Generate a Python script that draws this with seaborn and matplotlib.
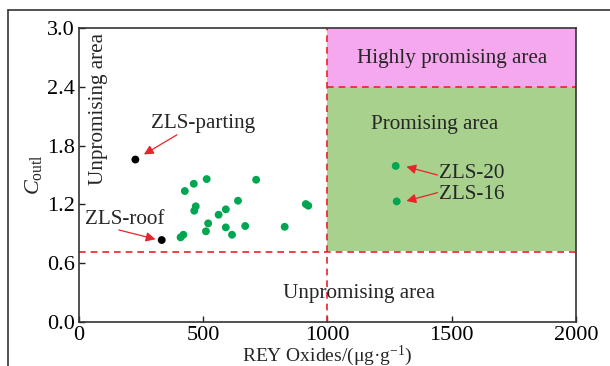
import matplotlib
matplotlib.use("Agg")
import matplotlib.pyplot as plt
import matplotlib.patches as mpatches
from matplotlib.lines import Line2D
import seaborn as sns
import pandas as pd

# REY oxide content (ug/g) and outlook coefficient for each sample
green_x = [426, 462, 514, 713, 470, 464, 640, 591, 562, 520, 511, 591, 616,
           669, 828, 913, 923, 409, 420, 1275, 1279]
green_y = [1.337, 1.411, 1.459, 1.452, 1.181, 1.136, 1.238, 1.150, 1.095,
           1.007, 0.926, 0.966, 0.891, 0.980, 0.972, 1.204, 1.187, 0.864,
           0.891, 1.593, 1.231]
black_x = [227, 333]
black_y = [1.658, 0.837]

# classification thresholds
rey_cut = 1000
c_low = 0.72
c_high = 2.4

sns.set_style("ticks")
plt.rcParams["font.family"] = ["Liberation Serif", "DejaVu Serif"]
plt.rcParams["mathtext.fontset"] = "custom"
plt.rcParams["mathtext.rm"] = "Liberation Serif"
plt.rcParams["mathtext.it"] = "Liberation Serif:italic"

df = pd.DataFrame({
    "x": green_x + black_x,
    "y": green_y + black_y,
    "kind": ["coal"] * len(green_x) + ["rock"] * len(black_x),
})

fig = plt.figure(figsize=(6.1, 3.66), dpi=100)
ax = fig.add_axes([0.1295, 0.120, 0.8145, 0.8035])

# shaded areas
ax.add_patch(mpatches.Rectangle((rey_cut, c_high), 1000, 3.0 - c_high,
                                facecolor="#F5A8EE", edgecolor="none", zorder=0))
ax.add_patch(mpatches.Rectangle((rey_cut, c_low + 0.01), 1000, c_high - c_low - 0.01,
                                facecolor="#A9D18E", edgecolor="none", zorder=0))

dash = dict(color="#E8232A", lw=1.2, linestyle=(0, (4, 3)), zorder=1)
ax.axvline(rey_cut, **dash)
ax.axhline(c_low, **dash)
ax.plot([rey_cut, 2000], [c_high, c_high], **dash)

sns.scatterplot(data=df, x="x", y="y", hue="kind",
                palette={"coal": "#00A651", "rock": "#000000"},
                s=32, linewidth=0, legend=False, ax=ax, zorder=3)

ax.set_xlim(0, 2000)
ax.set_ylim(0, 3.0)
ax.set_xticks([0, 500, 1000, 1500, 2000])
ax.set_yticks([0.0, 0.6, 1.2, 1.8, 2.4, 3.0])
ax.set_yticklabels(["0.0", "0.6", "1.2", "1.8", "2.4", "3.0"])
ax.tick_params(direction="in", length=4, width=1, labelsize=16,
               colors="#222222", labelcolor="black")
ax.tick_params(axis="x", pad=2.5)
ax.tick_params(axis="y", pad=3)
for sp in ax.spines.values():
    sp.set_color("#333333")
    sp.set_linewidth(1.2)

ax.set_xlabel("REY Oxides/(\u03bcg\u00b7g$^{-1}$)", fontsize=14)
ax.xaxis.set_label_coords(0.5, -0.073)
ax.set_ylabel("$C_{\\mathrm{outl}}$", fontsize=16, labelpad=2)

fs = 15.2
ax.text(1500, 2.69, "Highly promising area", ha="center", va="center", fontsize=fs)
ax.text(1433, 2.02, "Promising area", ha="center", va="center", fontsize=fs)
ax.text(1128, 0.29, "Unpromising area", ha="center", va="center", fontsize=fs)
ax.text(78, 2.17, "Unpromising area", ha="center", va="center", fontsize=fs,
        rotation=90)

arrow = dict(arrowstyle="-|>", color="#E8232A", lw=0.9, mutation_scale=14,
             shrinkA=0, shrinkB=0)
ax.annotate("", xy=(261, 1.71), xytext=(394, 1.91), arrowprops=arrow)
ax.text(500, 2.03, "ZLS-parting", ha="center", va="center", fontsize=fs)
ax.annotate("", xy=(308, 0.845), xytext=(160, 0.94), arrowprops=arrow)
ax.text(185, 1.05, "ZLS-roof", ha="center", va="center", fontsize=fs)
ax.annotate("", xy=(1318, 1.585), xytext=(1443, 1.50), arrowprops=arrow)
ax.text(1450, 1.52, "ZLS-20", ha="left", va="center", fontsize=fs)
ax.annotate("", xy=(1318, 1.235), xytext=(1443, 1.32), arrowprops=arrow)
ax.text(1450, 1.30, "ZLS-16", ha="left", va="center", fontsize=fs)

# outer frame around the panel
fx, fy = 8 / 610, 1 - 10 / 366
fig.add_artist(Line2D([fx, 1.0], [fy, fy], color="#333333", lw=1.2,
                      transform=fig.transFigure))
fig.add_artist(Line2D([fx, fx], [0.0, fy], color="#333333", lw=1.2,
                      transform=fig.transFigure))

fig.savefig("out.png", dpi=100)
